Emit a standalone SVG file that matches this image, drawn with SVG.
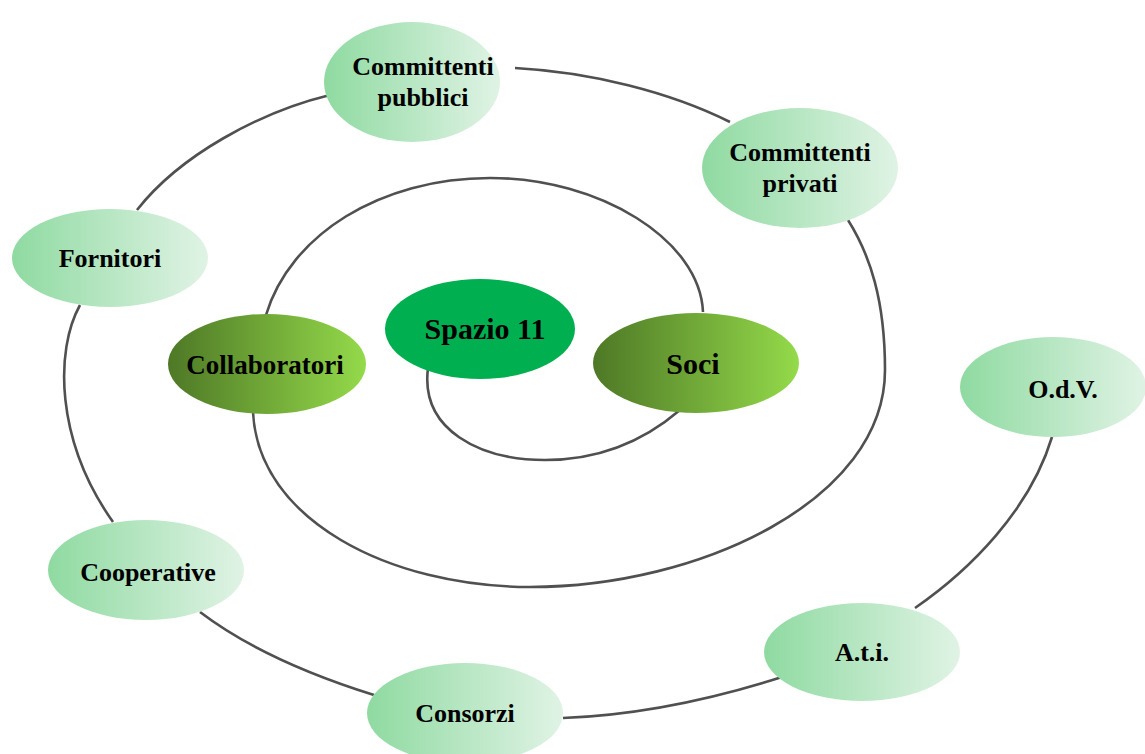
<svg xmlns="http://www.w3.org/2000/svg" width="1145" height="754" viewBox="0 0 1145 754">
<style>
.ln{fill:none;stroke:#505050;stroke-width:2.6;stroke-linecap:butt}
.lt{fill:url(#gl)}
.dk{fill:url(#gd)}
text{font-family:"Liberation Serif","Times New Roman",serif;font-weight:bold;fill:#000;text-anchor:middle}
.t1{font-size:26px}
.t2{font-size:27px}
.t3{font-size:30px}
</style>
<defs>
<linearGradient id="gl" x1="0" y1="0" x2="1" y2="0">
<stop offset="0" stop-color="#8fdaa1"/>
<stop offset="1" stop-color="#e0f3e5"/>
</linearGradient>
<linearGradient id="gd" x1="0" y1="0" x2="1" y2="0">
<stop offset="0" stop-color="#4e7826"/>
<stop offset="1" stop-color="#94da4a"/>
</linearGradient>
</defs>
<g id="connectors">
<path class="ln" d="M428,368 C420,430 480,460 545,460 C600,460 645,440 680,410"/>
<path class="ln" d="M703,312 C700,240 600,178 490,178 C380,178 290,235 266,315"/>
<path class="ln" d="M253,412 C258,520 390,587 530,587 C700,587 885,500 885,370 C885,300 870,255 848,220"/>
<path class="ln" d="M515,68 C590,72 670,92 730,122"/>
<path class="ln" d="M330,95 C260,112 180,155 137,210"/>
<path class="ln" d="M80,305 C55,350 55,440 113,522"/>
<path class="ln" d="M200,612 C250,650 310,675 374,695"/>
<path class="ln" d="M563,718 C640,715 710,700 782,677"/>
<path class="ln" d="M915,608 C970,570 1030,510 1052,437"/>
</g>
<g id="n-committenti-pubblici">
<ellipse class="lt" cx="412" cy="82" rx="88" ry="60"/>
<text class="t1" x="423" y="75">Committenti</text>
<text class="t1" x="423" y="106">pubblici</text>
</g>
<g id="n-committenti-privati">
<ellipse class="lt" cx="800" cy="168" rx="98" ry="60"/>
<text class="t1" x="800" y="161">Committenti</text>
<text class="t1" x="800" y="192">privati</text>
</g>
<g id="n-fornitori">
<ellipse class="lt" cx="110" cy="258" rx="98" ry="49"/>
<text class="t1" x="110" y="267">Fornitori</text>
</g>
<g id="n-collaboratori">
<ellipse class="dk" cx="267" cy="364" rx="99" ry="50"/>
<text class="t2" x="265" y="374">Collaboratori</text>
</g>
<g id="n-spazio11">
<ellipse cx="480" cy="329" rx="95" ry="50" fill="#00b050"/>
<text class="t3" x="485" y="339">Spazio 11</text>
</g>
<g id="n-soci">
<ellipse class="dk" cx="696" cy="363" rx="103" ry="50"/>
<text class="t3" x="693" y="374">Soci</text>
</g>
<g id="n-odv">
<ellipse class="lt" cx="1053" cy="387" rx="93" ry="50"/>
<text class="t1" x="1063" y="398">O.d.V.</text>
</g>
<g id="n-cooperative">
<ellipse class="lt" cx="146" cy="570" rx="98" ry="50"/>
<text class="t1" x="148" y="581">Cooperative</text>
</g>
<g id="n-consorzi">
<ellipse class="lt" cx="465" cy="713" rx="98" ry="50"/>
<text class="t1" x="465" y="722">Consorzi</text>
</g>
<g id="n-ati">
<ellipse class="lt" cx="862" cy="652" rx="98" ry="49"/>
<text class="t1" x="862" y="661">A.t.i.</text>
</g>
</svg>
